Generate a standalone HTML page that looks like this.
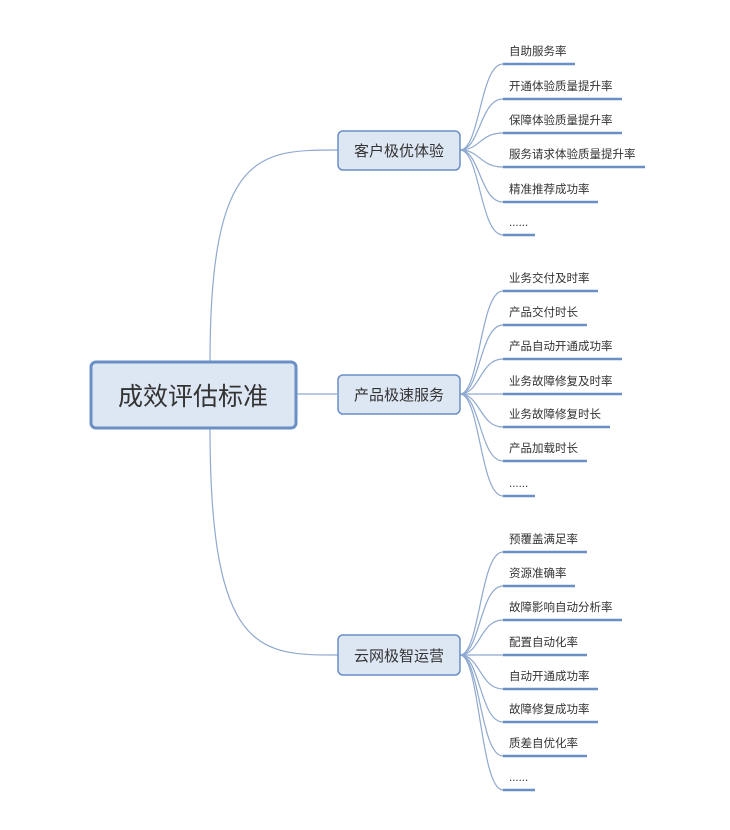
<!DOCTYPE html>
<html><head><meta charset="utf-8"><style>
html,body{margin:0;padding:0;background:#fff;}
svg{display:block;}
text{font-family:"Liberation Sans","Noto Sans CJK SC",sans-serif;fill:#333;}
</style></head><body>
<svg width="730" height="830" viewBox="0 0 730 830" xmlns="http://www.w3.org/2000/svg">
<g fill="none" stroke="#8fa9cf" stroke-width="1.2">
<path d="M210,362 C210,150 260,150 338,150"/>
<path d="M210,428 C210,655 260,655 338,655"/>
<path d="M296,394 L337,394"/>
</g>
<rect x="91" y="362" width="205" height="66" rx="5" fill="#dde6f3" stroke="#6a8fc5" stroke-width="3"/>
<text x="193" y="405" font-size="25" text-anchor="middle">成效评估标准</text>

<g id="g1"></g>
<g fill="none" stroke="#8fa9cf" stroke-width="1.2">
<!-- group1 center 150 -->
<path d="M460,150 C480,150 480,64 503,64"/>
<path d="M460,150 C480,150 480,99 503,99"/>
<path d="M460,150 C480,150 480,133 503,133"/>
<path d="M460,150 C480,150 480,167 503,167"/>
<path d="M460,150 C480,150 480,202 503,202"/>
<path d="M460,150 C480,150 480,235 503,235"/>
<!-- group2 center 394 -->
<path d="M460,394 C480,394 480,291 503,291"/>
<path d="M460,394 C480,394 480,325 503,325"/>
<path d="M460,394 C480,394 480,359 503,359"/>
<path d="M460,394 L503,394"/>
<path d="M460,394 C480,394 480,427 503,427"/>
<path d="M460,394 C480,394 480,461 503,461"/>
<path d="M460,394 C480,394 480,496 503,496"/>
<!-- group3 center 655 -->
<path d="M460,655 C480,655 480,552 503,552"/>
<path d="M460,655 C480,655 480,586 503,586"/>
<path d="M460,655 C480,655 480,620 503,620"/>
<path d="M460,655 L503,655"/>
<path d="M460,655 C480,655 480,689 503,689"/>
<path d="M460,655 C480,655 480,722 503,722"/>
<path d="M460,655 C480,655 480,756 503,756"/>
<path d="M460,655 C480,655 480,790 503,790"/>
</g>
<g stroke="#6a8fc5" stroke-width="2.5">
<line x1="503" y1="64" x2="575" y2="64"/>
<line x1="503" y1="99" x2="622" y2="99"/>
<line x1="503" y1="133" x2="622" y2="133"/>
<line x1="503" y1="167" x2="645" y2="167"/>
<line x1="503" y1="202" x2="598" y2="202"/>
<line x1="503" y1="235" x2="535" y2="235"/>
<line x1="503" y1="291" x2="598" y2="291"/>
<line x1="503" y1="325" x2="587" y2="325"/>
<line x1="503" y1="359" x2="622" y2="359"/>
<line x1="503" y1="394" x2="622" y2="394"/>
<line x1="503" y1="427" x2="610" y2="427"/>
<line x1="503" y1="461" x2="587" y2="461"/>
<line x1="503" y1="496" x2="535" y2="496"/>
<line x1="503" y1="552" x2="587" y2="552"/>
<line x1="503" y1="586" x2="575" y2="586"/>
<line x1="503" y1="620" x2="622" y2="620"/>
<line x1="503" y1="655" x2="587" y2="655"/>
<line x1="503" y1="689" x2="598" y2="689"/>
<line x1="503" y1="722" x2="598" y2="722"/>
<line x1="503" y1="756" x2="587" y2="756"/>
<line x1="503" y1="790" x2="535" y2="790"/>
</g>
<g fill="#dde6f3" stroke="#6a8fc5" stroke-width="1.5">
<rect x="338" y="131" width="122" height="39" rx="5"/>
<rect x="338" y="375" width="122" height="39" rx="5"/>
<rect x="338" y="635" width="122" height="40" rx="5"/>
</g>
<g font-size="15" text-anchor="middle">
<text x="399" y="156">客户极优体验</text>
<text x="399" y="400">产品极速服务</text>
<text x="399" y="661">云网极智运营</text>
</g>
<g font-size="11.5">
<text x="509" y="55">自助服务率</text>
<text x="509" y="90">开通体验质量提升率</text>
<text x="509" y="124">保障体验质量提升率</text>
<text x="509" y="158">服务请求体验质量提升率</text>
<text x="509" y="193">精准推荐成功率</text>
<text x="509" y="226">......</text>
<text x="509" y="282">业务交付及时率</text>
<text x="509" y="316">产品交付时长</text>
<text x="509" y="350">产品自动开通成功率</text>
<text x="509" y="385">业务故障修复及时率</text>
<text x="509" y="418">业务故障修复时长</text>
<text x="509" y="452">产品加载时长</text>
<text x="509" y="487">......</text>
<text x="509" y="543">预覆盖满足率</text>
<text x="509" y="577">资源准确率</text>
<text x="509" y="611">故障影响自动分析率</text>
<text x="509" y="646">配置自动化率</text>
<text x="509" y="680">自动开通成功率</text>
<text x="509" y="713">故障修复成功率</text>
<text x="509" y="747">质差自优化率</text>
<text x="509" y="781">......</text>
</g>
</svg>
</body></html>
